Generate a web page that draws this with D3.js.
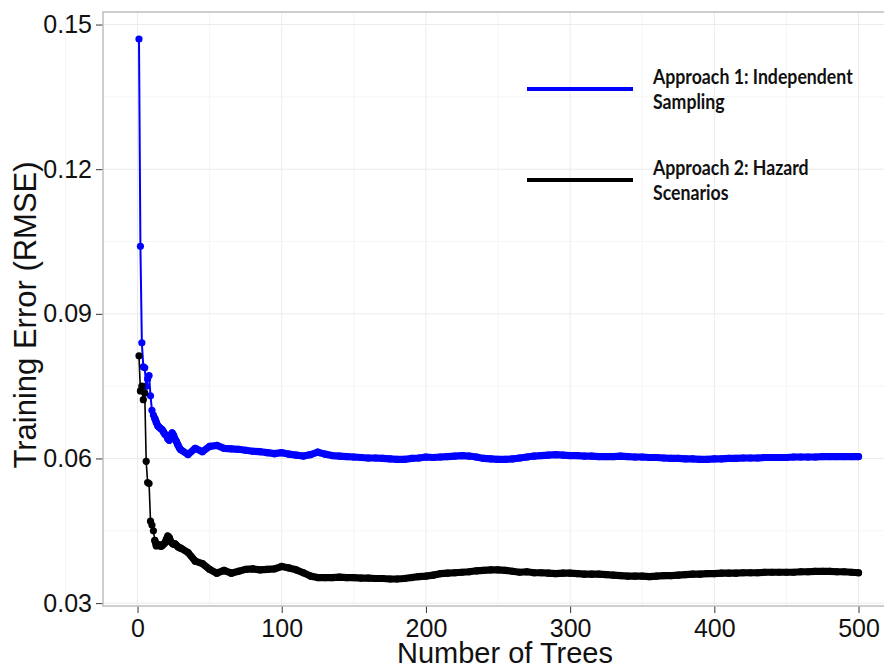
<!DOCTYPE html>
<html>
<head>
<meta charset="utf-8">
<script src="https://cdn.jsdelivr.net/npm/d3@7"></script>
<style>
  body { margin: 0; background: #fff; }
  .tick text { font-family: "Liberation Sans", Arial, sans-serif; fill: #111; }
  .tick line { stroke: #333; }
  .domain { display: none; }
  .legend text { font-family: Lato, "Open Sans", sans-serif; font-weight: bold; fill: #111; }
</style>
</head>
<body>
<script>
const trees = [
    1, 2, 3, 4, 5, 6, 7, 8, 9, 10,
    11, 12, 13, 14, 15, 16, 17, 18, 19, 20,
    21, 22, 23, 24, 25, 26, 27, 28, 29, 30,
    35, 40, 45, 50, 55, 60, 65, 70, 75, 80,
    85, 90, 95, 100, 105, 110, 115, 120, 125, 130,
    135, 140, 145, 150, 155, 160, 165, 170, 175, 180,
    185, 190, 195, 200, 205, 210, 215, 220, 225, 230,
    235, 240, 245, 250, 255, 260, 265, 270, 275, 280,
    285, 290, 295, 300, 305, 310, 315, 320, 325, 330,
    335, 340, 345, 350, 355, 360, 365, 370, 375, 380,
    385, 390, 395, 400, 405, 410, 415, 420, 425, 430,
    435, 440, 445, 450, 455, 460, 465, 470, 475, 480,
    485, 490, 495, 500
];

// Approach 1: Independent Sampling
const rmseIndependent = [
    0.1470, 0.1040, 0.0840, 0.0790, 0.0788, 0.0750, 0.0765, 0.0772, 0.0730, 0.0700,
    0.0690, 0.0683, 0.0675, 0.0668, 0.0665, 0.0662, 0.0660, 0.0655, 0.0650, 0.0648,
    0.0641, 0.0638, 0.0648, 0.0653, 0.0648, 0.0640, 0.0635, 0.0628, 0.0622, 0.0618,
    0.0608, 0.0621, 0.0614, 0.0625, 0.0627, 0.0621, 0.0620, 0.0619, 0.0617, 0.0615,
    0.0614, 0.0612, 0.0610, 0.0612, 0.0609, 0.0607, 0.0605, 0.0608, 0.0613, 0.0609,
    0.0606, 0.0605, 0.0604, 0.0603, 0.0602, 0.0601, 0.0601, 0.0600, 0.0599, 0.0598,
    0.0598, 0.0600, 0.0601, 0.0603, 0.0602, 0.0603, 0.0604, 0.0605, 0.0606, 0.0605,
    0.0603, 0.0600, 0.0599, 0.0598, 0.0598, 0.0599, 0.0601, 0.0603, 0.0605, 0.0606,
    0.0607, 0.0608, 0.0607, 0.0606, 0.0606, 0.0605, 0.0605, 0.0604, 0.0604, 0.0604,
    0.0605, 0.0604, 0.0603, 0.0603, 0.0602, 0.0602, 0.0601, 0.0600, 0.0600, 0.0599,
    0.0599, 0.0598, 0.0598, 0.0599, 0.0599, 0.0600, 0.0600, 0.0601, 0.0601, 0.0601,
    0.0602, 0.0602, 0.0602, 0.0602, 0.0603, 0.0603, 0.0603, 0.0603, 0.0604, 0.0604,
    0.0604, 0.0604, 0.0604, 0.0604
];

// Approach 2: Hazard Scenarios
const rmseHazard = [
    0.0813, 0.0740, 0.0750, 0.0722, 0.0736, 0.0594, 0.0550, 0.0548, 0.0470, 0.0462,
    0.0450, 0.0430, 0.0419, 0.0420, 0.0421, 0.0418, 0.0419, 0.0422, 0.0425, 0.0432,
    0.0439, 0.0436, 0.0428, 0.0424, 0.0422, 0.0423, 0.0420, 0.0417, 0.0415, 0.0414,
    0.0405, 0.0387, 0.0382, 0.0370, 0.0362, 0.0368, 0.0362, 0.0366, 0.0370, 0.0371,
    0.0369, 0.0370, 0.0371, 0.0376, 0.0373, 0.0369, 0.0363, 0.0356, 0.0353, 0.0353,
    0.0353, 0.0354, 0.0353, 0.0353, 0.0352, 0.0352, 0.0351, 0.0351, 0.0350, 0.0350,
    0.0351, 0.0353, 0.0355, 0.0356, 0.0358, 0.0361, 0.0362, 0.0363, 0.0364, 0.0365,
    0.0367, 0.0368, 0.0369, 0.0369, 0.0368, 0.0366, 0.0364, 0.0365, 0.0363, 0.0363,
    0.0362, 0.0361, 0.0362, 0.0362, 0.0361, 0.0360, 0.0360, 0.0360, 0.0359, 0.0358,
    0.0357, 0.0356, 0.0356, 0.0356, 0.0355, 0.0356, 0.0357, 0.0357, 0.0358, 0.0359,
    0.0360, 0.0360, 0.0361, 0.0361, 0.0362, 0.0362, 0.0362, 0.0363, 0.0363, 0.0363,
    0.0364, 0.0364, 0.0364, 0.0364, 0.0364, 0.0365, 0.0365, 0.0366, 0.0366, 0.0366,
    0.0365, 0.0365, 0.0364, 0.0363
];

const xTicks = [0, 100, 200, 300, 400, 500];
const yTicks = [0.03, 0.06, 0.09, 0.12, 0.15];
const legendLabels = [
    ["Approach 1: Independent", "Sampling"],
    ["Approach 2: Hazard", "Scenarios"]
];

const width = 884, height = 666;
const panel = { left: 103, top: 12, right: 894.5, bottom: 606 };
const dotRadius = 3.6;
// from this point on the dots sit so close together they merge into a band
const denseFrom = 11;

const svg = d3.select("body").append("svg")
    .attr("width", width)
    .attr("height", height);

// ggplot style: pad the data range by 5% on each side
const expand = (ext) => {
    const pad = (ext[1] - ext[0]) * 0.05;
    return [ext[0] - pad, ext[1] + pad];
};

const x = d3.scaleLinear()
    .domain(expand(d3.extent(trees)))
    .range([panel.left, panel.right]);

const allValues = rmseIndependent.concat(rmseHazard);
const y = d3.scaleLinear()
    .domain(expand(d3.extent(allValues)))
    .range([panel.bottom, panel.top]);

const series = [
    { name: "independent", color: "#0000ff", values: rmseIndependent, width: 2 },
    { name: "hazard", color: "#000000", values: rmseHazard, width: 1.6 }
];

/**
 * grid lines, minor ones half way between the ticks
 */
const drawGrid = () => {
    const g = svg.append("g").attr("class", "grid");
    const xMinor = xTicks.map(d => d + 50).concat([-50]);
    const yMinor = yTicks.map(d => d + 0.015).concat([0.015]);

    g.selectAll(".xminor").data(xMinor).enter().append("line")
        .attr("x1", d => x(d)).attr("x2", d => x(d))
        .attr("y1", panel.top).attr("y2", panel.bottom)
        .attr("stroke", "#f5f5f5");
    g.selectAll(".yminor").data(yMinor).enter().append("line")
        .attr("x1", panel.left).attr("x2", panel.right)
        .attr("y1", d => y(d)).attr("y2", d => y(d))
        .attr("stroke", "#f5f5f5");
    g.selectAll(".xmajor").data(xTicks).enter().append("line")
        .attr("x1", d => x(d)).attr("x2", d => x(d))
        .attr("y1", panel.top).attr("y2", panel.bottom)
        .attr("stroke", "#ebebeb");
    g.selectAll(".ymajor").data(yTicks).enter().append("line")
        .attr("x1", panel.left).attr("x2", panel.right)
        .attr("y1", d => y(d)).attr("y2", d => y(d))
        .attr("stroke", "#ebebeb");
};

/**
 * lines with a dot on every point read
 */
const drawSeries = () => {
    const line = d3.line()
        .x(d => x(d.t))
        .y(d => y(d.v));

    series.forEach(s => {
        const pts = s.values.map((v, i) => ({ t: trees[i], v: v }));

        svg.append("path")
            .datum(pts)
            .attr("class", "line " + s.name)
            .attr("fill", "none")
            .attr("stroke", s.color)
            .attr("stroke-width", s.width)
            .attr("d", line);

        // thick band for the dense part of the curve
        svg.append("path")
            .datum(pts.slice(denseFrom))
            .attr("class", "band " + s.name)
            .attr("fill", "none")
            .attr("stroke", s.color)
            .attr("stroke-width", dotRadius * 2)
            .attr("stroke-linejoin", "round")
            .attr("stroke-linecap", "round")
            .attr("d", line);

        svg.selectAll(".dot." + s.name)
            .data(pts)
            .enter().append("circle")
            .attr("class", "dot " + s.name)
            .attr("cx", d => x(d.t))
            .attr("cy", d => y(d.v))
            .attr("r", dotRadius)
            .attr("fill", s.color);
    });
};

const drawAxes = () => {
    svg.append("g")
        .attr("class", "x-axis")
        .attr("transform", "translate(0," + panel.bottom + ")")
        .call(d3.axisBottom(x).tickValues(xTicks).tickSize(7).tickPadding(6))
        .selectAll("text").style("font-size", "25px");

    svg.append("g")
        .attr("class", "y-axis")
        .attr("transform", "translate(" + panel.left + ",0)")
        .call(d3.axisLeft(y).tickValues(yTicks).tickSize(7).tickPadding(4)
            .tickFormat(d3.format(".2f")))
        .selectAll("text").style("font-size", "25px");

    // panel border goes on top of everything
    svg.append("rect")
        .attr("x", panel.left)
        .attr("y", panel.top)
        .attr("width", panel.right - panel.left)
        .attr("height", panel.bottom - panel.top)
        .attr("fill", "none")
        .attr("stroke", "#bfbfbf")
        .attr("stroke-width", 1.5);

    svg.append("text")
        .attr("x", 505)
        .attr("y", 663)
        .attr("text-anchor", "middle")
        .style("font-family", "'Liberation Sans', Arial, sans-serif")
        .style("font-size", "29px")
        .attr("fill", "#111")
        .text("Number of Trees");

    svg.append("text")
        .attr("transform", "translate(36,315) rotate(-90)")
        .attr("text-anchor", "middle")
        .style("font-family", "'Liberation Sans', Arial, sans-serif")
        .style("font-size", "31px")
        .attr("fill", "#111")
        .text("Training Error (RMSE)");
};

const drawLegend = () => {
    const g = svg.append("g").attr("class", "legend");
    const rowY = [89, 180];

    series.forEach((s, i) => {
        g.append("line")
            .attr("x1", 527).attr("x2", 633)
            .attr("y1", rowY[i]).attr("y2", rowY[i])
            .attr("stroke", s.color)
            .attr("stroke-width", 4);

        legendLabels[i].forEach((txt, j) => {
            g.append("text")
                .attr("transform", "translate(653," + (rowY[i] - 5 + j * 25) + ") scale(0.885,1)")
                .style("font-size", "20px")
                .text(txt);
        });
    });
};

drawGrid();
drawSeries();
drawAxes();
drawLegend();
</script>
</body>
</html>
